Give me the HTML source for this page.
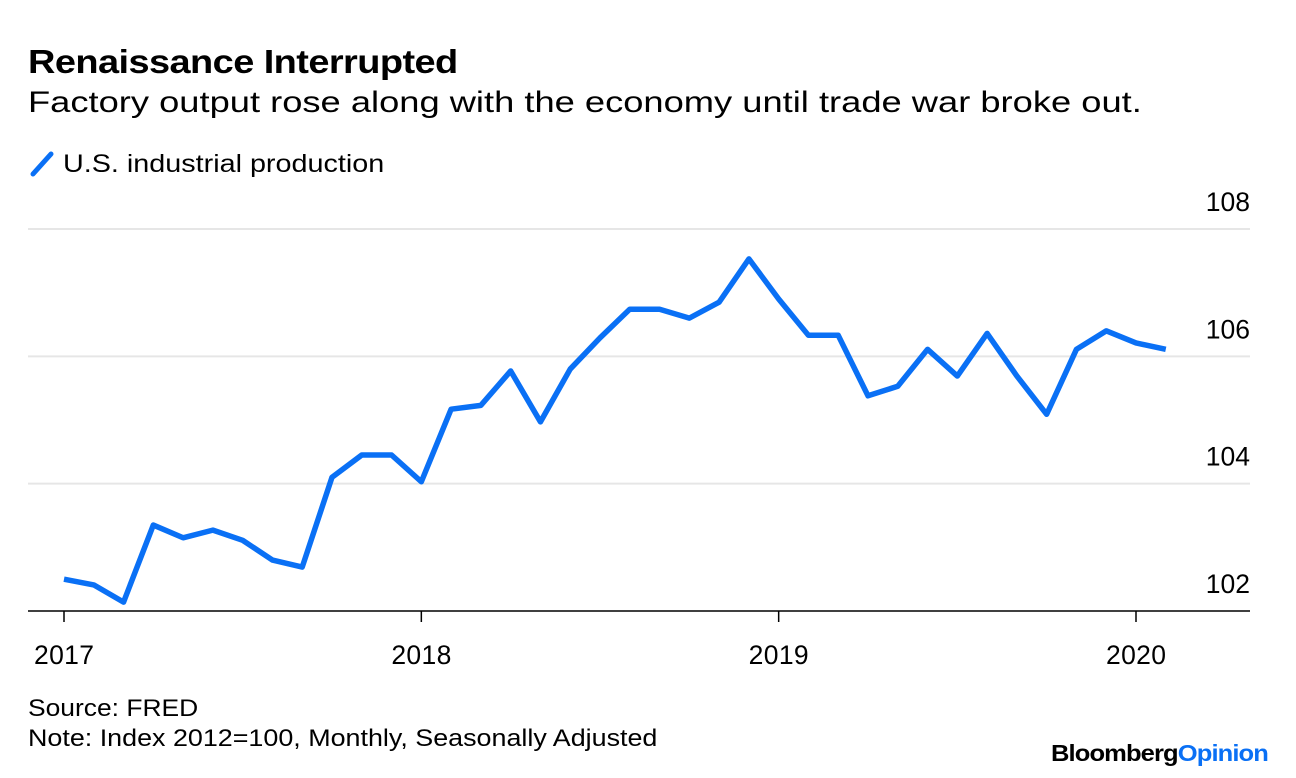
<!DOCTYPE html>
<html><head><meta charset="utf-8">
<style>
body{margin:0;width:1296px;height:778px;background:#fff;font-family:"Liberation Sans",sans-serif;color:#000;overflow:hidden;position:relative}
.t{position:absolute;white-space:nowrap;transform-origin:0 0}
</style></head><body>
<div class="t" style="left:28px;top:43px;font-size:33px;font-weight:bold;letter-spacing:-0.5px;transform:scaleX(1.15)">Renaissance Interrupted</div>
<div class="t" style="left:28px;top:86px;font-size:30px;transform:scaleX(1.21)">Factory output rose along with the economy until trade war broke out.</div>
<div class="t" style="left:28px;top:148px;font-size:25px"><svg width="28" height="30" style="vertical-align:-6px"><line x1="5" y1="26" x2="23" y2="6" stroke="#0a70f5" stroke-width="5" stroke-linecap="round"/></svg> <span style="display:inline-block;transform:scaleX(1.15);transform-origin:0 0">U.S. industrial production</span></div>
<svg id="chart" width="1296" height="778" style="position:absolute;left:0;top:0"></svg>
<div class="t" style="left:28px;top:695px;font-size:24px;transform:scaleX(1.1)">Source: FRED</div>
<div class="t" style="left:28px;top:725px;font-size:24px;transform:scaleX(1.12)">Note: Index 2012=100, Monthly, Seasonally Adjusted</div>
<div class="t" style="left:1051px;top:740px;font-size:23px;font-weight:bold;letter-spacing:-0.8px;transform:scaleX(1.11)">Bloomberg<span style="color:#0a70f5">Opinion</span></div>
<script>
const values=[102.50,102.41,102.14,103.35,103.15,103.27,103.11,102.80,102.69,104.10,104.45,104.45,104.03,105.17,105.23,105.77,104.97,105.80,106.29,106.74,106.74,106.60,106.85,107.53,106.90,106.33,106.33,105.38,105.53,106.11,105.69,106.36,105.69,105.09,106.11,106.40,106.21,106.11];
const yTicks=[102,104,106,108];
const xTickLabels=["2017","2018","2019","2020"];
const xTickIndex=[0,12,24,36];
const NS="http://www.w3.org/2000/svg";
const svg=document.getElementById('chart');
const x=i=>64+i*(1136-64)/36;
const y=v=>611-(v-102)*63.67;
function mk(t,a){const e=document.createElementNS(NS,t);for(const k in a)e.setAttribute(k,a[k]);svg.appendChild(e);return e;}
yTicks.forEach(v=>{
  if(v>102){const g=mk('line',{x1:28,x2:1250,y1:y(v),y2:y(v),stroke:'#e6e6e6','stroke-width':2});
  
  }
  const t=mk('text',{x:1250,y:y(v)-18,'text-anchor':'end','font-size':26.5,'font-family':'Liberation Sans, sans-serif'});
  t.textContent=v;
  
  
});
const ax=mk('line',{x1:28,x2:1250,y1:611,y2:611,stroke:'#000','stroke-width':1.5});


xTickLabels.forEach((l,k)=>{
  const xi=x(xTickIndex[k]);
  const tk=mk('line',{x1:xi,x2:xi,y1:611,y2:622,stroke:'#000','stroke-width':1.5});
  
  
  const t=mk('text',{x:xi,y:664,'text-anchor':'middle','font-size':26.5,'textLength':60,'font-family':'Liberation Sans, sans-serif'});
  t.textContent=l;
  
  
});
const p=mk('polyline',{points:values.map((v,i)=>x(i)+','+y(v)).join(' '),fill:'none',stroke:'#0a70f5','stroke-width':5.5,'stroke-linejoin':'round'});


</script>
</body></html>
